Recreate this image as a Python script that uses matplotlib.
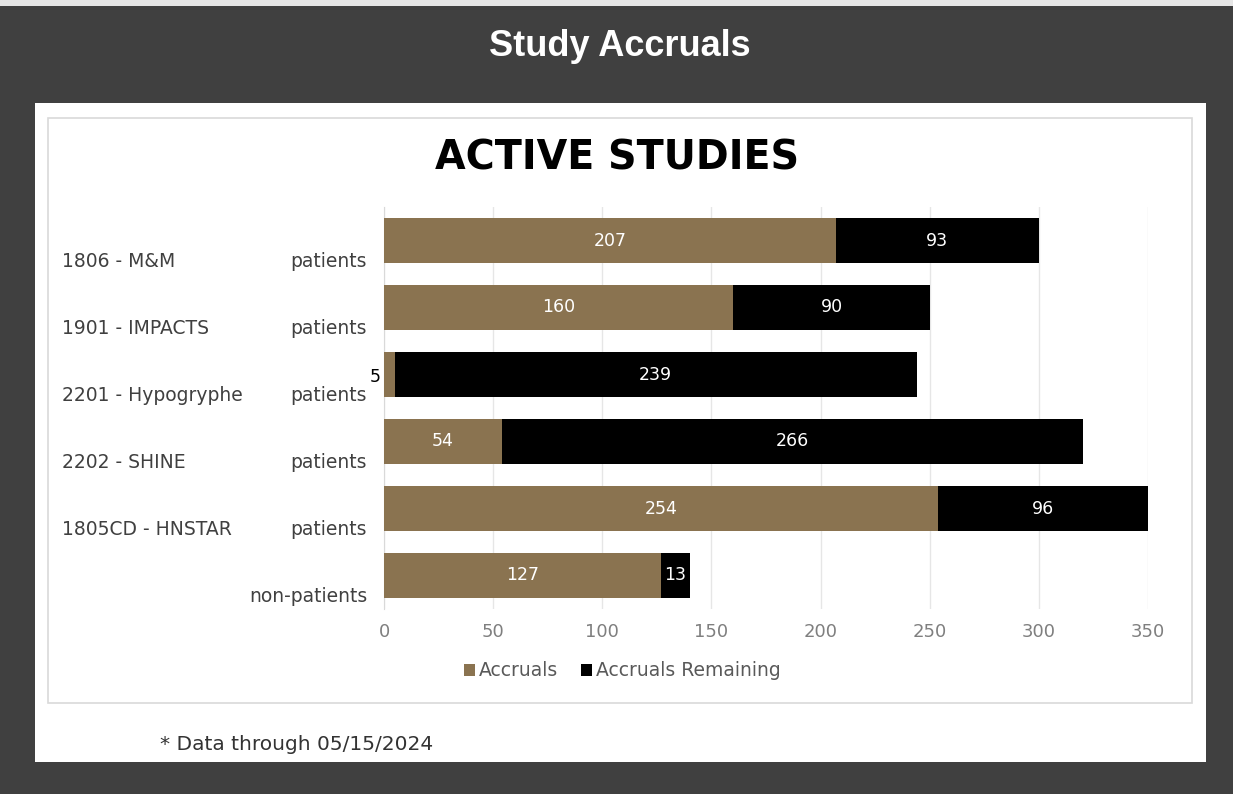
import numpy as np
import matplotlib.pyplot as plt
from matplotlib.patches import Rectangle

plt.rcParams['font.family'] = ['DejaVu Sans']

# data
studies = ["1806 - M&M", "1901 - IMPACTS", "2201 - Hypogryphe", "2202 - SHINE", "1805CD - HNSTAR", ""]
groups = ["patients", "patients", "patients", "patients", "patients", "non-patients"]
accruals = [207, 160, 5, 54, 254, 127]
remaining = [93, 90, 239, 266, 96, 13]
xticks = [0, 50, 100, 150, 200, 250, 300, 350]

tan = "#8a7350"
W, H = 1233, 794

fig = plt.figure(figsize=(W / 100, H / 100), dpi=100)
fig.patch.set_facecolor("#404040")

def fx(px):
    return px / W

def fy(py):
    return 1 - py / H

# top strip, white panel, chart border
fig.patches.append(Rectangle((0, fy(6)), 1, 1 - fy(6), transform=fig.transFigure,
                             facecolor="#e6e6e6", edgecolor="none", zorder=-2))
fig.patches.append(Rectangle((fx(35), fy(762)), fx(1206 - 35), (762 - 103) / H,
                             transform=fig.transFigure, facecolor="white",
                             edgecolor="none", zorder=-2))
fig.patches.append(Rectangle((fx(48), fy(703)), fx(1192 - 48), (703 - 118) / H,
                             transform=fig.transFigure, facecolor="none",
                             edgecolor="#d9d9d9", linewidth=1.2, zorder=-1))

fig.text(fx(620), fy(47), "Study Accruals", color="white", fontsize=26,
         fontweight="bold", family="Liberation Sans", ha="center", va="center")
fig.text(fx(617), fy(158), "ACTIVE STUDIES", color="black", fontsize=28.5,
         fontweight="bold", family="DejaVu Sans", ha="center", va="center")

ax = fig.add_axes([fx(384), fy(609), fx(1148 - 384), (609 - 207) / H])
ax.set_zorder(2)
ax.set_facecolor("white")
y = np.arange(len(studies))
h = 0.66
b1 = ax.barh(y, accruals, height=h, color=tan, label="Accruals", zorder=3)
b2 = ax.barh(y, remaining, left=accruals, height=h, color="black",
             label="Accruals Remaining", zorder=3)

for i in range(len(y)):
    a, r = accruals[i], remaining[i]
    if a >= 20:
        ax.text(a / 2, i, str(a), color="white", fontsize=12.5, ha="center",
                va="center", zorder=4)
    else:
        ax.text(-1.5, i + 0.03, str(a), color="black", fontsize=12.5, ha="right",
                va="center", zorder=4, clip_on=False)
    ax.text(a + r / 2, i, str(r), color="white", fontsize=12.5, ha="center",
            va="center", zorder=4)

ax.set_xlim(0, 350)
ax.set_ylim(len(y) - 0.5, -0.5)
ax.set_xticks(xticks)
ax.tick_params(axis="x", length=0, labelsize=13, labelcolor="#7f7f7f", pad=10)
ax.set_yticks([])
ax.grid(axis="x", color="#e6e6e6", linewidth=1, zorder=0)
for s in ["top", "right", "bottom"]:
    ax.spines[s].set_visible(False)
ax.spines["left"].set_color("#d9d9d9")

# two-level category labels
for i in range(len(y)):
    ax.text(-0.022, i + 0.31, groups[i], transform=ax.get_yaxis_transform(),
            ha="right", va="center", fontsize=13.5, color="#404040")
    if studies[i]:
        ax.text(fx(62 - 384) / fx(1148 - 384), i + 0.31, studies[i],
                transform=ax.get_yaxis_transform(), ha="left", va="center",
                fontsize=13.5, color="#404040")

fig.legend(handles=[b1, b2], loc="center", bbox_to_anchor=(fx(622), fy(671)),
           ncol=2, frameon=False, fontsize=13.5, labelcolor="#595959",
           handlelength=0.6, handleheight=0.6, handletextpad=0.2, columnspacing=1.2)

fig.text(fx(160), fy(744), "* Data through 05/15/2024", fontsize=14.5,
         color="#333333", ha="left", va="center")

fig.savefig("out.png", dpi=100, facecolor=fig.get_facecolor())
